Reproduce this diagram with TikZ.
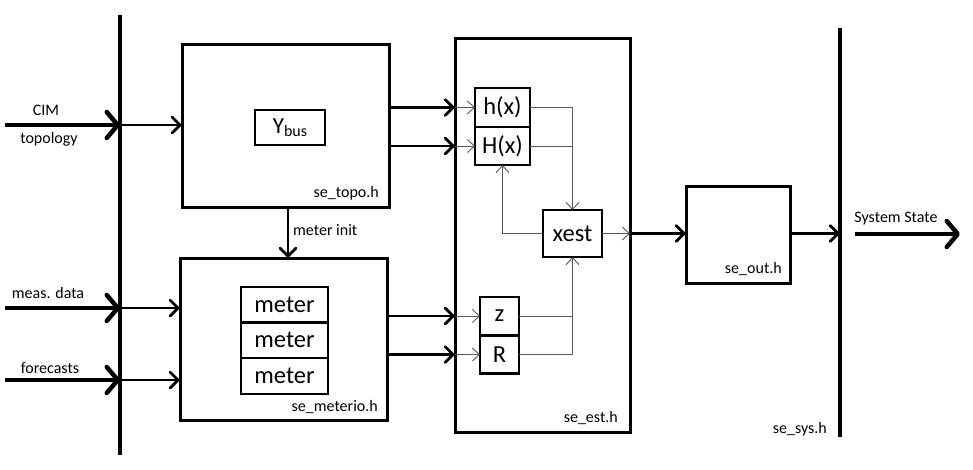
\documentclass[tikz,border=0pt]{standalone}
\usepackage{fontspec}
\setmainfont{Carlito}
\usetikzlibrary{arrows.meta}
\begin{document}
\begin{tikzpicture}[x=1pt,y=-1pt,
  box/.style={draw,line width=3pt,inner sep=0pt,outer sep=0pt},
  sbox/.style={draw,line width=2.2pt,inner sep=0pt,outer sep=0pt,font=\fontsize{24.5}{26}\selectfont},
  bar/.style={line width=4.5pt},
  bigarrow/.style={line width=4.5pt,-{Straight Barb[length=11pt,width=26pt,line cap=round,line join=round]}},
  medarrow/.style={line width=2.8pt,-{Straight Barb[length=8pt,width=16pt,line cap=round]}},
  thinarrow/.style={line width=0.9pt,draw=black!65,-{Straight Barb[length=7pt,width=13pt]}},
  thinline/.style={line width=0.9pt,draw=black!65},
  lbl/.style={font=\fontsize{16}{18}\selectfont,inner sep=0pt},
  flbl/.style={font=\fontsize{16}{18}\selectfont,inner sep=0pt,anchor=base east}
]
\useasboundingbox (0,0) rectangle (973,469);
% bars
\coordinate (lbtop) at (120,15);
\coordinate (lbbot) at (120,455);
\coordinate (rbtop) at (840,28);
\coordinate (rbbot) at (840,437);
\draw[bar] (lbtop) -- (lbbot);
\draw[bar] (rbtop) -- (rbbot);
% boxes
\node[box,minimum width=207pt,minimum height=163pt] (topo) at (285.5,125.5) {};
\node[flbl] (topolbl) at (379,197) {se\_topo.h};
\node[draw,line width=2.2pt,minimum width=70pt,minimum height=35pt,inner sep=0pt,font=\fontsize{23}{24}\selectfont] (ybus) at (290,127.5) {Y{\fontsize{16}{18}\selectfont\raisebox{-3pt}{bus}}};
\node[box,minimum width=207pt,minimum height=162pt] (meterio) at (283.5,339) {};
\node[flbl] (meteriolbl) at (378,411) {se\_meterio.h};
\node[sbox,minimum width=87pt,minimum height=36pt] (m1) at (284.5,305) {meter};
\node[sbox,minimum width=87pt,minimum height=36pt] (m2) at (284.5,340) {meter};
\node[sbox,minimum width=87pt,minimum height=36pt] (m3) at (284.5,376) {meter};
\node[box,minimum width=175pt,minimum height=394pt] (est) at (542.5,235) {};
\node[flbl] (estlbl) at (618,422) {se\_est.h};
\node[sbox,minimum width=55pt,minimum height=39pt] (hx) at (502.5,107.5) {h(x)};
\node[sbox,minimum width=55pt,minimum height=38pt] (Hx) at (502.5,146) {H(x)};
\node[sbox,minimum width=39pt,minimum height=38pt] (z) at (499.5,316) {z};
\node[sbox,minimum width=39pt,minimum height=38pt] (R) at (499.5,354.5) {R};
\node[sbox,minimum width=59pt,minimum height=47pt] (xest) at (572.5,233.5) {xest};
\node[box,minimum width=104pt,minimum height=97pt] (out) at (738,234.5) {};
\node[flbl] (outlbl) at (782,273) {se\_out.h};
\node[flbl] (syslbl) at (827,433) {se\_sys.h};
% inputs
\coordinate (in1) at (5,125);
\coordinate (in2) at (5,308);
\coordinate (in3) at (5,380);
\draw[bigarrow] (in1) -- (in1 -| lbtop);
\draw[bigarrow] (in2) -- (in2 -| lbtop);
\draw[bigarrow] (in3) -- (in3 -| lbtop);
\node[lbl,anchor=base] (cim) at (46,115) {CIM};
\node[lbl,anchor=base] (topol) at (49,143) {topology};
\node[lbl,anchor=base] (meas) at (48,298) {meas. data};
\node[lbl,anchor=base] (fore) at (50,373) {forecasts};
\draw[medarrow] (in1 -| lbtop) -- (in1 -| topo.west);
\draw[medarrow] (in2 -| lbtop) -- (in2 -| meterio.west);
\draw[medarrow] (in3 -| lbtop) -- (in3 -| meterio.west);
% meter init
\draw[medarrow] (topo.south -| ybus) ++(-2,0) coordinate (mi) -- (mi |- meterio.north);
\node[lbl,anchor=base west] (milbl) at (293,235) {meter init};
% to est
\draw[medarrow] (hx.west -| topo.east) -- (hx.west -| est.west);
\draw[medarrow] (Hx.west -| topo.east) -- (Hx.west -| est.west);
\draw[thinarrow] (hx.west -| est.west) -- (hx.west);
\draw[thinarrow] (Hx.west -| est.west) -- (Hx.west);
\draw[medarrow] (z.west -| meterio.east) -- (z.west -| est.west);
\draw[medarrow] (R.west -| meterio.east) -- (R.west -| est.west);
\draw[thinarrow] (z.west -| est.west) -- (z.west);
\draw[thinarrow] (R.west -| est.west) -- (R.west);
% inside est
\draw[thinline] (hx.east) -- (hx.east -| xest.north);
\draw[thinline] (Hx.east) -- (Hx.east -| xest.north);
\draw[thinarrow] (hx.east -| xest.north) -- (xest.north);
\draw[thinarrow] (xest.west) -- (xest.west -| Hx.south) -- (Hx.south);
\draw[thinline] (z.east) -- (z.east -| xest.south);
\draw[thinline] (R.east) -- (R.east -| xest.south);
\draw[thinarrow] (R.east -| xest.south) -- (xest.south);
\draw[thinarrow] (xest.east) -- (xest.east -| est.east);
% outputs
\draw[medarrow] (xest.east -| est.east) -- (xest.east -| out.west);
\draw[medarrow] (xest.east -| out.east) -- (xest.east -| rbtop);
\coordinate (sysa) at (855,234);
\coordinate (sysb) at (960,234);
\draw[bigarrow] (sysa) -- (sysb);
\node[lbl,anchor=base] (syst) at (896,222) {System State};
\end{tikzpicture}
\end{document}
